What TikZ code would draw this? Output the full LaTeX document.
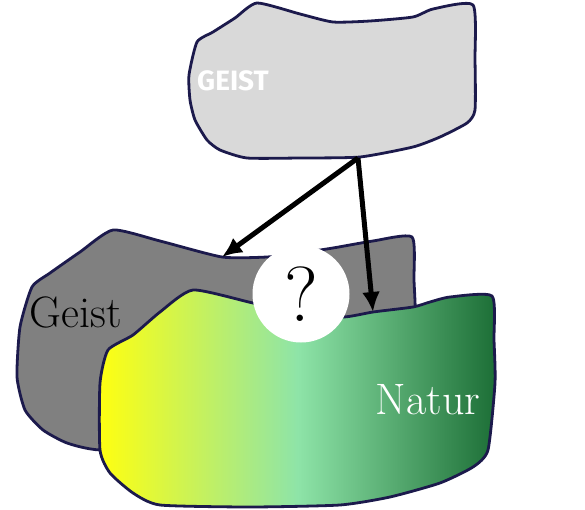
\documentclass[tikz,border=0pt]{standalone}
\usepackage{fontspec}
\usepackage{tikz}
\usetikzlibrary{arrows.meta}
\newfontfamily\schildfont{Fira Sans}
\definecolor{umriss}{HTML}{1C1A4C}
\definecolor{hellgrau}{HTML}{D9D9D9}
\definecolor{mittelgrau}{HTML}{808080}
\definecolor{gelb}{HTML}{FFFF10}
\definecolor{hellgruen}{HTML}{8EE4A8}
\definecolor{dunkelgruen}{HTML}{1C6E36}
\tikzset{
    fleck/.style={draw=umriss,line width=2.8pt,line join=round},
    pfeil/.style={-{Latex[length=20pt,width=18pt]},line width=5pt,black},
}

\begin{document}
\begin{tikzpicture}[x=1pt,y=-1pt]
        \useasboundingbox (0,0) rectangle (585,510);
        \draw[fleck,fill=mittelgrau] plot[smooth cycle,tension=0.35] coordinates {
            (113,230) (160,241) (222,257) (267,257) (300,253) (333,248) (373,241) (412,237)
            (414,280) (415,330) (400,400) (200,450) (100,450) (67,443) (43,430) (25,410)
            (17,377) (20,327) (32,287) (50,273) (80,252)};
        \draw[fleck,left color=gelb,right color=dunkelgruen,middle color=hellgruen]
            plot[smooth cycle,tension=0.35] coordinates {
            (193,290) (253,303) (300,312) (343,317) (373,312) (413,307) (430,302) (450,297)
            (492,296) (494,340) (495,383) (488,450) (473,467) (440,483) (390,497) (340,505)
            (250,507) (160,505) (133,493) (110,473) (100,450) (100,383) (108,350) (133,335)
            (160,312)};
        \draw[fleck,fill=hellgrau] plot[smooth cycle,tension=0.35] coordinates {
            (257,3) (300,14) (333,22) (370,21) (413,17) (433,9) (473,5) (475,60) (475,110)
            (467,123) (440,137) (413,147) (360,157) (300,158) (247,158) (220,150) (207,140)
            (195,120) (190,100) (189,75) (197,42) (213,32) (235,18)};
        \coordinate (geistfuss) at (358,158);
        \coordinate (geistrand) at (222,257);
        \coordinate (naturrand) at (373,312);
        \draw[pfeil] (geistfuss) -- (geistrand);
        \draw[pfeil] (geistfuss) -- (naturrand);
        \node[circle,fill=white,minimum size=97pt,inner sep=0pt] (frage) at (301,294)
            {\fontsize{78}{78}\selectfont ?};
        \node[white,font=\schildfont\bfseries\fontsize{28}{28}\selectfont] (geistoben) at (233,81) {GEIST};
        \node[black,font=\fontsize{44}{44}\selectfont] (geistmitte) at (76,312) {Geist};
        \node[white,font=\fontsize{44}{44}\selectfont] (natur) at (428,400) {Natur};
\end{tikzpicture}
\end{document}
